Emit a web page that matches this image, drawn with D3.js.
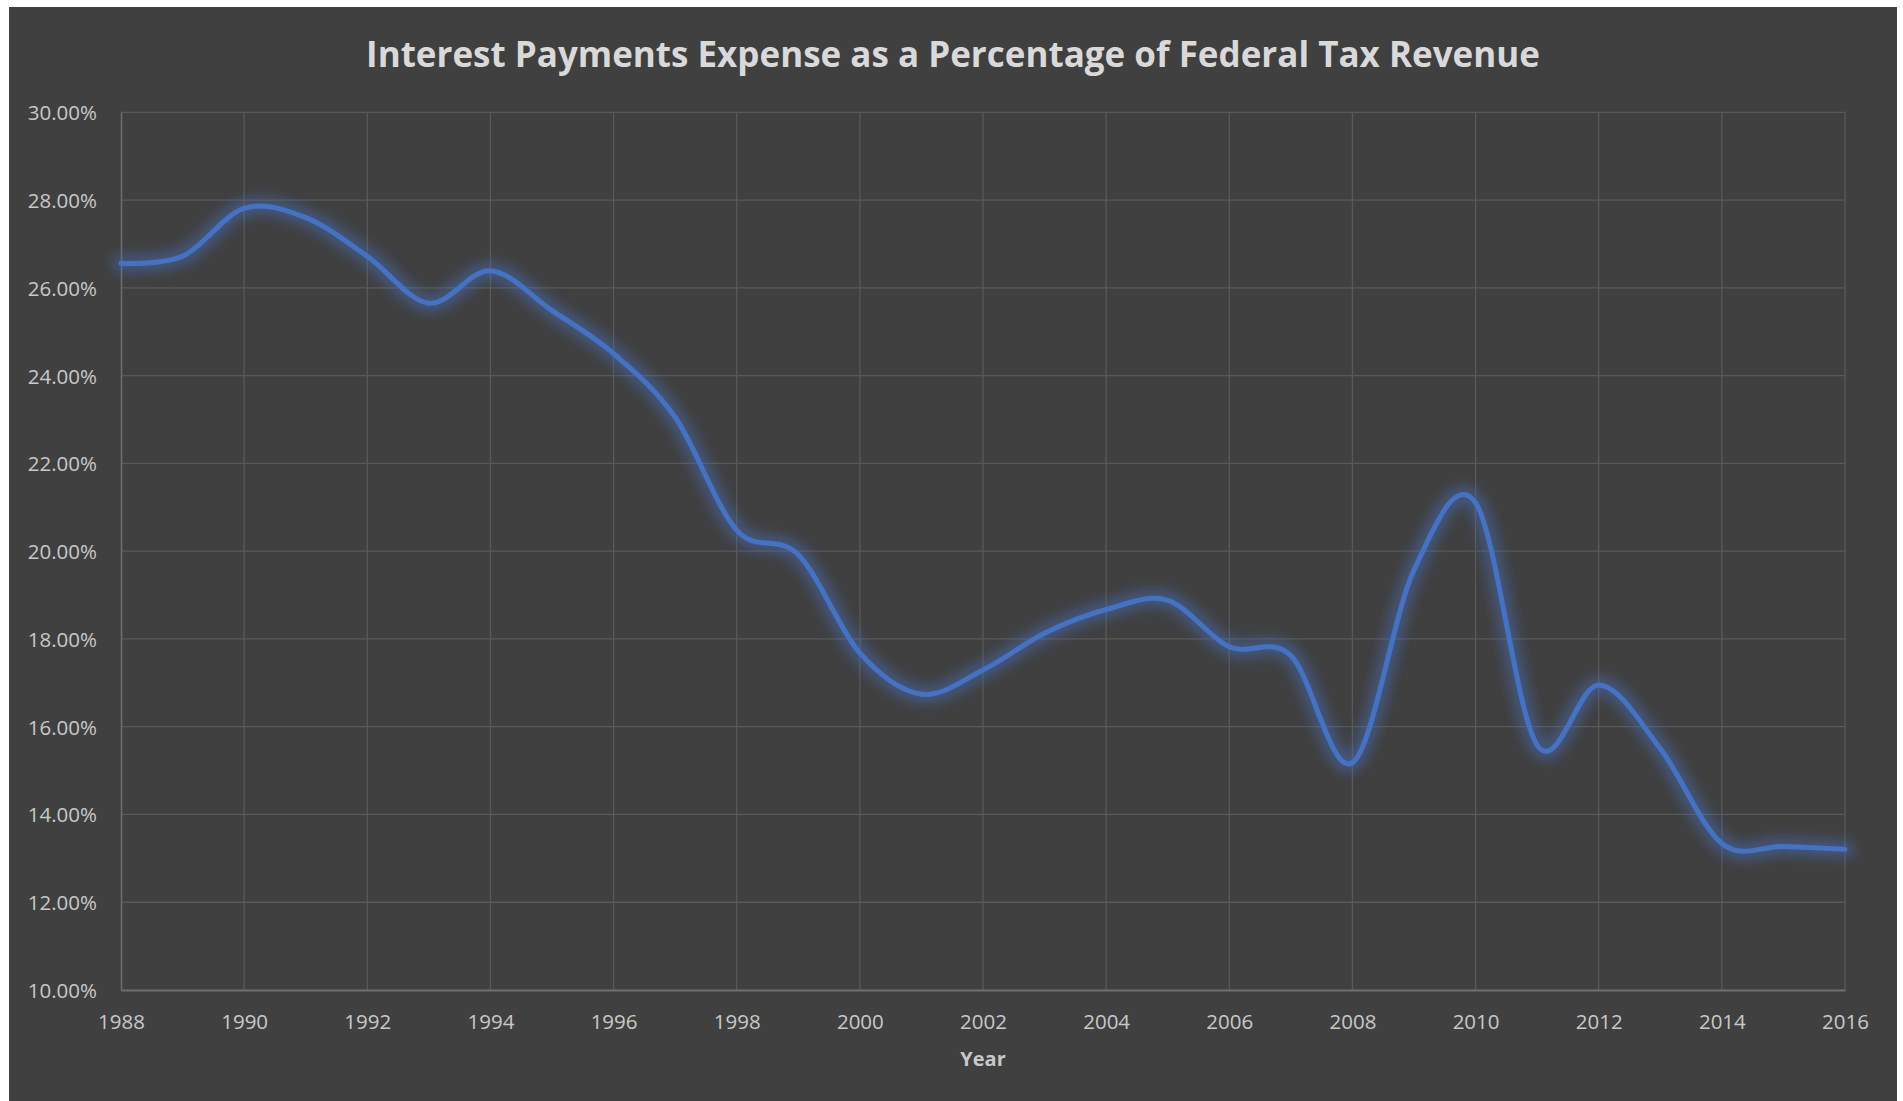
<!DOCTYPE html>
<html>
<head>
<meta charset="utf-8">
<script src="https://cdn.jsdelivr.net/npm/d3@7"></script>
<style>
  html, body { margin: 0; padding: 0; background: #ffffff; }
  svg { display: block; }
</style>
</head>
<body>
<svg id="chart" width="1903" height="1101"></svg>
<script>
// Interest payments as a share of federal tax revenue, 1988–2016 (percent)
const years = [1988, 1989, 1990, 1991, 1992, 1993, 1994, 1995, 1996, 1997,
               1998, 1999, 2000, 2001, 2002, 2003, 2004, 2005, 2006, 2007,
               2008, 2009, 2010, 2011, 2012, 2013, 2014, 2015, 2016];
const interestShare = [26.56, 26.72, 27.81, 27.60, 26.72, 25.65, 26.39, 25.48, 24.50, 23.05,
                       20.48, 19.92, 17.68, 16.74, 17.29, 18.13, 18.67, 18.88, 17.82, 17.62,
                       15.18, 19.57, 21.10, 15.58, 16.95, 15.50, 13.34, 13.27, 13.21];
const yTicks = [10, 12, 14, 16, 18, 20, 22, 24, 26, 28, 30];
const xTicks = [1988, 1990, 1992, 1994, 1996, 1998, 2000, 2002, 2004, 2006, 2008, 2010, 2012, 2014, 2016];

const titleText = "Interest Payments Expense as a Percentage of Federal Tax Revenue";
const xTitle = "Year";

const svg = d3.select("#chart");
const font = "'Open Sans', 'Noto Sans', sans-serif";

// chart area panel
svg.append("rect")
  .attr("x", 9).attr("y", 7)
  .attr("width", 1888).attr("height", 1094)
  .attr("fill", "#404040");

const plot = { left: 121, right: 1845, top: 112.3, bottom: 990 };

const x = d3.scaleLinear().domain([1988, 2016]).range([plot.left, plot.right]);
const y = d3.scaleLinear().domain([10, 30]).range([plot.bottom, plot.top]);

// glow filter for the series line
const defs = svg.append("defs");
const glow = defs.append("filter").attr("id", "glow")
  .attr("x", "-5%").attr("y", "-10%").attr("width", "110%").attr("height", "120%");
glow.append("feGaussianBlur").attr("stdDeviation", 6);

// gridlines
const grid = svg.append("g");
grid.selectAll("line.h").data(yTicks.filter(d => d > 10)).join("line")
  .attr("x1", plot.left).attr("x2", plot.right)
  .attr("y1", d => y(d)).attr("y2", d => y(d))
  .attr("stroke", "#595959").attr("stroke-width", 1.3);
grid.selectAll("line.v").data(xTicks.filter(d => d > 1988)).join("line")
  .attr("y1", plot.top).attr("y2", plot.bottom)
  .attr("x1", d => x(d)).attr("x2", d => x(d))
  .attr("stroke", "#595959").attr("stroke-width", 1.3);

// y axis
const yAxis = svg.append("g")
  .attr("transform", `translate(${plot.left},0)`)
  .call(d3.axisLeft(y).tickValues(yTicks).tickSize(0).tickPadding(24)
        .tickFormat(d => d3.format(".2f")(d) + "%"));
yAxis.select(".domain").attr("stroke", "#6e6e6e").attr("stroke-width", 1.5);
yAxis.selectAll("text")
  .attr("fill", "#c8c8c8").style("font-family", font).style("font-size", "20.5px")
  .attr("dy", "0.36em");

// x axis
const xAxis = svg.append("g")
  .attr("transform", `translate(0,${plot.bottom})`)
  .call(d3.axisBottom(x).tickValues(xTicks).tickSize(0).tickPadding(24)
        .tickFormat(d3.format("d")));
xAxis.select(".domain").attr("stroke", "#6e6e6e").attr("stroke-width", 2);
xAxis.selectAll("text")
  .attr("fill", "#c8c8c8").style("font-family", font).style("font-size", "20.5px");

// series line with glow
const line = d3.line()
  .x((d, i) => x(years[i]))
  .y(d => y(d))
  .curve(d3.curveCardinal.tension(0));

svg.append("path")
  .attr("d", line(interestShare))
  .attr("fill", "none")
  .attr("stroke", "#4472c4")
  .attr("stroke-opacity", 0.45)
  .attr("stroke-width", 18)
  .attr("stroke-linecap", "round")
  .attr("filter", "url(#glow)");

svg.append("path")
  .attr("d", line(interestShare))
  .attr("fill", "none")
  .attr("stroke", "#4472c4")
  .attr("stroke-width", 5)
  .attr("stroke-linecap", "round")
  .attr("stroke-linejoin", "round");

// title
svg.append("text")
  .attr("x", 953).attr("y", 67)
  .attr("text-anchor", "middle")
  .attr("fill", "#d9d9d9")
  .style("font-family", font).style("font-weight", "700").style("font-size", "35px")
  .text(titleText);

// x axis title
svg.append("text")
  .attr("x", (plot.left + plot.right) / 2).attr("y", 1066)
  .attr("text-anchor", "middle")
  .attr("fill", "#c8c8c8")
  .style("font-family", font).style("font-weight", "700").style("font-size", "20px")
  .text(xTitle);
</script>
</body>
</html>
